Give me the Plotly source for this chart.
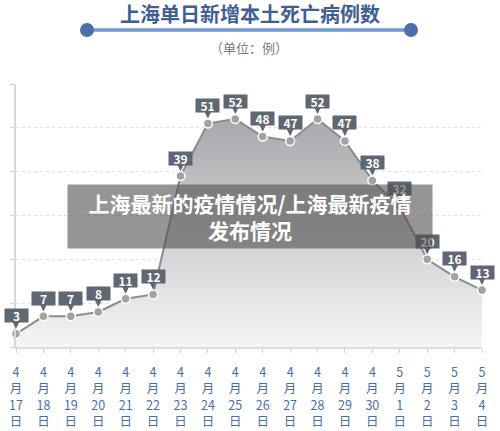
import plotly.graph_objects as go

months = [4]*14 + [5]*4
days = list(range(17, 31)) + [1, 2, 3, 4]
categories = [f"{m}月{d}日" for m, d in zip(months, days)]
tick_text = [f"{m}<br>月<br>{d}<br>日" for m, d in zip(months, days)]
deaths = [3, 7, 7, 8, 11, 12, 39, 51, 52, 48, 47, 52, 47, 38, 32, 20, 16, 13]

title = "上海单日新增本土死亡病例数"
subtitle = "（单位：例）"
overlay = "上海最新的疫情情况/上海最新疫情<br>发布情况"

FONT = "Noto Sans CJK SC"
W, H = 500, 431
ML, MR, MT, MB = 16, 18, 84, 84
PW, PH = W - ML - MR, H - MT - MB

def px(x):
    return (x - ML) / PW

def py(y):
    return (H - MB - y) / PH

fig = go.Figure()
fig.add_trace(go.Scatter(
    x=categories, y=deaths, mode="lines+markers",
    line=dict(color="#8c8c8e", width=2),
    marker=dict(size=9, color="#a2a2a4", line=dict(color="white", width=1.5)),
    fill="tozeroy",
    fillgradient=dict(type="vertical", start=0, stop=52,
                      colorscale=[[0, "#f5f5f7"], [1, "#a9a9ad"]]),
    cliponaxis=False, hoverinfo="skip",
))

annotations = []
for c, v in zip(categories, deaths):
    annotations.append(dict(
        x=c, y=v, xref="x", yref="y", text=f"<b>{v}</b>",
        showarrow=True, ax=0, ay=-18, arrowhead=2, arrowsize=0.7,
        arrowwidth=2, arrowcolor="#5f6773", standoff=5,
        bgcolor="#5f6773", width=23, height=13, borderpad=0,
        font=dict(family=FONT, size=12, color="white"),
    ))

annotations.append(dict(
    x=px(250), y=py(13), xref="paper", yref="paper", showarrow=False,
    text=f"<b>{title}</b>", font=dict(family=FONT, size=20, color="#3f5e92"),
    xanchor="center", yanchor="middle",
))
annotations.append(dict(
    x=px(249), y=py(47), xref="paper", yref="paper", showarrow=False,
    text=subtitle, font=dict(family=FONT, size=13, color="#7a7a7a"),
    xanchor="center", yanchor="middle",
))
annotations.append(dict(
    x=px(67), y=py(184), xref="paper", yref="paper", showarrow=False,
    text=f"<b>{overlay}</b>", font=dict(family=FONT, size=21, color="white"),
    xanchor="left", yanchor="top", width=364, height=63,
    bgcolor="rgba(78,78,78,0.6)", borderpad=0, align="center",
))

shapes = [
    dict(type="line", xref="paper", yref="paper", x0=px(87), x1=px(411),
         y0=py(30), y1=py(30), line=dict(color="#6f98d2", width=3.5)),
    dict(type="circle", xref="paper", yref="paper", x0=px(80), x1=px(94),
         y0=py(23), y1=py(37), fillcolor="#4d6ea6", line=dict(width=0)),
    dict(type="circle", xref="paper", yref="paper", x0=px(404), x1=px(418),
         y0=py(23), y1=py(37), fillcolor="#4d6ea6", line=dict(width=0)),
]

fig.update_layout(
    width=W, height=H, margin=dict(l=ML, r=MR, t=MT, b=MB, autoexpand=False),
    paper_bgcolor="white", plot_bgcolor="white", showlegend=False,
    annotations=annotations, shapes=shapes,
    font=dict(family=FONT),
)
fig.update_xaxes(
    type="category", range=[0, len(categories) - 1],
    tickvals=categories, ticktext=tick_text,
    tickfont=dict(family=FONT, size=12.5, color="#4a6ea6"),
    ticklabelstandoff=9, automargin=False,
    showgrid=False, showline=True, linecolor="#dcdcde", linewidth=2,
    ticks="outside", ticklen=4, tickcolor="#d4d4d6", zeroline=False,
)
fig.update_yaxes(
    range=[0, 60], dtick=10, showticklabels=False, automargin=False,
    showgrid=True, gridcolor="#e2e2e4", griddash="3px,3px", gridwidth=1,
    showline=True, linecolor="#d8d8da", linewidth=1.5,
    ticks="outside", ticklen=4, tickcolor="#d4d4d6", zeroline=False,
)

fig.write_html("out.html")
